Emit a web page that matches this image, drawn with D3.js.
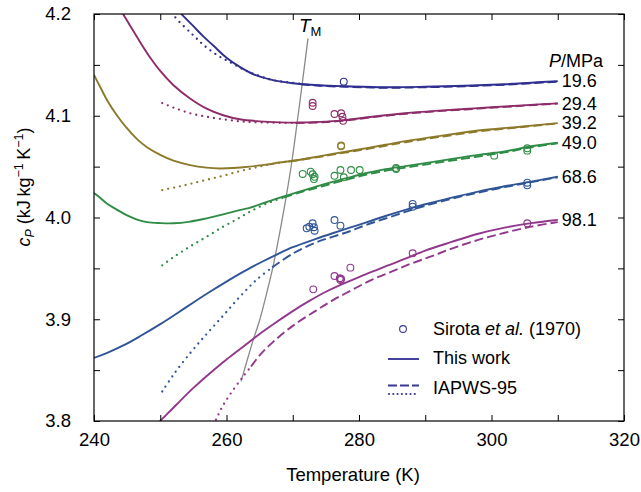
<!DOCTYPE html>
<html><head><meta charset="utf-8">
<script src="https://cdn.jsdelivr.net/npm/d3@7/dist/d3.min.js"></script>
<style>
body{margin:0;background:#fff;}
svg{display:block;font-family:"Liberation Sans",Arial,Helvetica,sans-serif;}
</style>
</head><body>
<svg id="chart" width="641" height="492"></svg>
<script>
// ---------------- data ----------------
const pressureLabels = ["19.6", "29.4", "39.2", "49.0", "68.6", "98.1"];
const seriesColors = ["#2e2f8e", "#8e2c6a", "#8c7a2a", "#2f8c46", "#305596", "#91378c"];

const xTickValues = [240, 250, 260, 270, 280, 290, 300, 310, 320];
const xTickLabels = ["240", "", "260", "", "280", "", "300", "", "320"];
const yTickValues = [3.8, 3.85, 3.9, 3.95, 4.0, 4.05, 4.1, 4.15, 4.2];
const yTickLabels = ["3.8", "", "3.9", "", "4.0", "", "4.1", "", "4.2"];

// This work (solid) [T (K), cP (kJ/kg/K)]
const thisWork196 = [[252.4,4.207],[253.2,4.200],[255,4.188],[256.5,4.178],[258,4.169],[260,4.157],[262,4.148],[264,4.141],[267,4.135],[270,4.132],[274,4.130],[278,4.129],[284,4.128],[290,4.1285],[296,4.1295],[302,4.131],[306,4.1325],[310,4.134]];
const thisWork294 = [[243.8,4.207],[244.4,4.200],[245.5,4.188],[247,4.172],[248.5,4.157],[250,4.144],[252,4.130],[254.5,4.117],[257,4.107],[259.5,4.1005],[262,4.0965],[265,4.0945],[268,4.0935],[271,4.0933],[274,4.094],[277.5,4.0955],[282,4.099],[287,4.1025],[292,4.105],[298,4.1075],[304,4.110],[310,4.1122]];
const thisWork392 = [[240,4.140],[241,4.1275],[242,4.115],[243.5,4.100],[245,4.0875],[246.5,4.077],[248,4.069],[250,4.0615],[252,4.0558],[254.5,4.0515],[257,4.049],[259,4.0482],[261,4.0486],[263.5,4.050],[266,4.052],[268,4.054],[270,4.0558],[273,4.059],[276,4.0625],[280,4.0668],[284,4.0715],[287,4.075],[292,4.080],[298,4.0855],[304,4.089],[310,4.0928]];
const thisWork490 = [[240,4.024],[241,4.019],[242,4.0135],[243.5,4.0075],[245,4.002],[246.5,3.998],[248,3.9955],[250,3.9945],[252,3.9943],[254.5,3.996],[257,3.9992],[259.5,4.003],[261.5,4.0065],[263.5,4.0095],[266,4.015],[268.5,4.0205],[271,4.0255],[273.5,4.0303],[276,4.035],[278.6,4.0395],[281,4.0435],[284,4.0475],[287,4.0505],[290,4.0535],[294,4.0575],[298,4.0615],[302,4.065],[306,4.070],[310,4.0735]];
const thisWork686 = [[240,3.862],[242,3.867],[244.5,3.8745],[247,3.8835],[250,3.8952],[252.5,3.9057],[255,3.9165],[257.5,3.927],[260,3.937],[262.5,3.9465],[265,3.9553],[267.5,3.9633],[270,3.9708],[273.5,3.979],[276,3.9845],[278.6,3.990],[281,3.995],[284,4.0015],[287,4.0075],[290,4.013],[294,4.0195],[298,4.0255],[302,4.0307],[306,4.0353],[310,4.040]];
const thisWork981 = [[249.5,3.797],[250,3.800],[252.5,3.8165],[255,3.8325],[257.5,3.847],[260,3.8605],[262.5,3.873],[265,3.8855],[267.5,3.897],[270,3.908],[272.5,3.918],[275,3.927],[278,3.936],[281,3.944],[284,3.952],[287,3.9595],[290,3.9675],[294,3.976],[298,3.984],[302,3.990],[306,3.9945],[310,3.9975]];

// IAPWS-95 below melting temperature (dotted)
const iapwsDot196 = [[251,4.212],[252,4.199],[255,4.179],[257,4.167],[259,4.158],[261,4.151],[263,4.144],[265,4.139],[267,4.135],[271.2,4.1315]];
const iapwsDot294 = [[250.3,4.1125],[252,4.108],[254.5,4.1025],[257,4.099],[259.5,4.0965],[262,4.0945],[264,4.0937],[267,4.0932],[270.4,4.093]];
const iapwsDot392 = [[250.3,4.027],[252.5,4.030],[254.5,4.033],[257,4.037],[259.5,4.041],[262,4.0455],[264,4.0485],[266,4.0515],[269.4,4.0553]];
const iapwsDot490 = [[250.3,3.953],[252,3.961],[254.5,3.9715],[257,3.981],[259.5,3.991],[261.5,3.998],[263.5,4.0055],[266,4.0135],[268.6,4.0195]];
const iapwsDot686 = [[250.3,3.829],[252,3.8455],[254.5,3.8665],[257,3.8855],[259.5,3.9035],[262,3.922],[264.5,3.9385],[266.9,3.951]];
const iapwsDot981 = [[258,3.796],[258.5,3.8025],[259.5,3.8155],[261,3.8305],[262.5,3.8435],[263.7,3.8535]];

// IAPWS-95 above melting temperature (dashed)
const iapwsDash196 = [[271.2,4.131],[274,4.1295],[278,4.1285],[284,4.1275],[290,4.128],[296,4.129],[302,4.1305],[306,4.132],[310,4.1335]];
const iapwsDash294 = [[270.4,4.0928],[274,4.0935],[277.5,4.095],[282,4.0985],[287,4.102],[292,4.1045],[298,4.107],[304,4.1095],[310,4.112]];
const iapwsDash392 = [[269.4,4.055],[273,4.0585],[276,4.0618],[280,4.066],[284,4.0705],[287,4.074],[292,4.079],[298,4.0845],[304,4.0885],[310,4.0925]];
const iapwsDash490 = [[268.6,4.0195],[271,4.0245],[273.5,4.029],[276,4.0335],[278.6,4.038],[281,4.042],[284,4.046],[287,4.049],[290,4.052],[294,4.056],[298,4.060],[302,4.064],[306,4.069],[310,4.073]];
const iapwsDash686 = [[266.9,3.951],[270,3.9645],[273.5,3.9755],[276,3.981],[278.6,3.9865],[281,3.9925],[284,3.999],[287,4.0055],[290,4.0115],[294,4.0185],[298,4.0245],[302,4.0298],[306,4.0348],[310,4.0395]];
const iapwsDash981 = [[263.7,3.8535],[265,3.8645],[267,3.8775],[270,3.8935],[273.5,3.9085],[276,3.9185],[279,3.929],[282,3.939],[285,3.947],[288,3.955],[291,3.962],[294,3.9695],[298,3.978],[302,3.985],[306,3.991],[310,3.9955]];

// Sirota et al. (1970) measurements
const sirota196 = [[277.7,4.1335]];
const sirota294 = [[273.0,4.1128],[273.0,4.1096],[276.3,4.1017],[277.3,4.1024],[277.5,4.099],[277.6,4.095]];
const sirota392 = [[277.3,4.0708],[277.3,4.0700]];
const sirota490 = [[271.5,4.0428],[272.7,4.045],[273.0,4.0425],[273.3,4.040],[273.2,4.0378],[276.3,4.041],[277.2,4.0467],[277.7,4.0395],[278.8,4.0467],[280.1,4.0467],[285.6,4.0487],[285.6,4.0477],[300.4,4.0608],[305.4,4.068],[305.4,4.0657]];
const sirota686 = [[272.1,3.9894],[272.5,3.991],[273.0,3.9943],[273.2,3.9904],[273.3,3.987],[276.3,3.9975],[277.2,3.992],[288.1,4.0133],[288.1,4.0106],[305.4,4.0342],[305.4,4.0316]];
const sirota981 = [[273.1,3.9294],[276.3,3.9425],[277.1,3.9403],[277.2,3.9386],[277.3,3.9395],[278.7,3.9507],[288.1,3.9648],[305.4,3.9943]];

// Melting line T_M
const meltingLine = [[262.2,3.839],[263,3.857],[264,3.879],[265,3.899],[266,3.924],[267,3.951],[268,3.984],[269,4.020],[269.9,4.0565],[270.8,4.100],[271.5,4.135],[272.3,4.176]];

const thisWork = [thisWork196, thisWork294, thisWork392, thisWork490, thisWork686, thisWork981];
const iapwsDot = [iapwsDot196, iapwsDot294, iapwsDot392, iapwsDot490, iapwsDot686, iapwsDot981];
const iapwsDash = [iapwsDash196, iapwsDash294, iapwsDash392, iapwsDash490, iapwsDash686, iapwsDash981];
const sirota = [sirota196, sirota294, sirota392, sirota490, sirota686, sirota981];

// ---------------- drawing ----------------
const svg = d3.select("#chart");
const L = 94, R = 624, T = 14, B = 421;
const x = d3.scaleLinear().domain([240, 320]).range([L, R]);
const y = d3.scaleLinear().domain([3.8, 4.2]).range([B, T]);
const tickLen = 6;
const fs = 18.5;

const defs = svg.append("defs");
defs.append("clipPath").attr("id", "plotclip")
  .append("rect").attr("x", L).attr("y", T).attr("width", R - L).attr("height", B - T);

const line = d3.line().x(d => x(d[0])).y(d => y(d[1])).curve(d3.curveCatmullRom.alpha(0.5));

const plot = svg.append("g").attr("clip-path", "url(#plotclip)");

// melting line
plot.append("path").datum(meltingLine).attr("d", line)
  .attr("fill", "none").attr("stroke", "#8a8a8a").attr("stroke-width", 1.3);

thisWork.forEach((s, i) => {
  plot.append("path").datum(iapwsDot[i]).attr("d", line)
    .attr("fill", "none").attr("stroke", seriesColors[i]).attr("stroke-width", 2.3)
    .attr("stroke-linecap", "round").attr("stroke-dasharray", "0 6");
  plot.append("path").datum(iapwsDash[i]).attr("d", line)
    .attr("fill", "none").attr("stroke", seriesColors[i]).attr("stroke-width", 1.9)
    .attr("stroke-dasharray", "9 4");
  plot.append("path").datum(s).attr("d", line)
    .attr("fill", "none").attr("stroke", seriesColors[i]).attr("stroke-width", 1.9);
});

sirota.forEach((pts, i) => {
  plot.selectAll(null).data(pts).enter().append("circle")
    .attr("cx", d => x(d[0])).attr("cy", d => y(d[1])).attr("r", 3.4)
    .attr("fill", "none").attr("stroke", seriesColors[i]).attr("stroke-width", 1.1);
});

// axes (ticks inward on all four sides)
function styleAxis(g) {
  g.select(".domain").remove();
  g.selectAll(".tick line").attr("stroke", "#000").attr("stroke-width", 1);
  g.selectAll(".tick text").attr("fill", "#000").style("font-size", fs + "px")
    .style("font-family", "'Liberation Sans',Arial,sans-serif");
}
svg.append("g").attr("transform", `translate(0,${B})`)
  .call(d3.axisBottom(x).tickValues(xTickValues).tickFormat((d, i) => xTickLabels[i])
    .tickSizeInner(-tickLen).tickSizeOuter(0).tickPadding(12)).call(styleAxis);
svg.append("g").attr("transform", `translate(0,${T})`)
  .call(d3.axisTop(x).tickValues(xTickValues).tickFormat("")
    .tickSizeInner(-tickLen).tickSizeOuter(0)).call(styleAxis);
svg.append("g").attr("transform", `translate(${L},0)`)
  .call(d3.axisLeft(y).tickValues(yTickValues).tickFormat((d, i) => yTickLabels[i])
    .tickSizeInner(-tickLen).tickSizeOuter(0).tickPadding(23)).call(styleAxis);
svg.append("g").attr("transform", `translate(${R},0)`)
  .call(d3.axisRight(y).tickValues(yTickValues).tickFormat("")
    .tickSizeInner(-tickLen).tickSizeOuter(0)).call(styleAxis);

svg.append("rect").attr("x", L).attr("y", T).attr("width", R - L).attr("height", B - T)
  .attr("fill", "none").attr("stroke", "#000").attr("stroke-width", 1.2);

// axis titles
svg.append("text").attr("x", 353).attr("y", 481).attr("text-anchor", "middle")
  .style("font-size", fs + "px").text("Temperature (K)");

const yt = svg.append("text").attr("transform", "translate(30,187) rotate(-90)")
  .attr("text-anchor", "middle").style("font-size", "18px");
yt.append("tspan").attr("font-style", "italic").text("c");
yt.append("tspan").attr("font-style", "italic").attr("dy", 4).style("font-size", "12.5px").text("P");
yt.append("tspan").attr("dy", -4).text(" (kJ\u2009kg");
yt.append("tspan").attr("dy", -7).style("font-size", "12.5px").text("\u22121");
yt.append("tspan").attr("dy", 7).text("\u2009K");
yt.append("tspan").attr("dy", -7).style("font-size", "12.5px").text("\u22121");
yt.append("tspan").attr("dy", 7).text(")");

// pressure labels
const pl = svg.append("text").attr("x", 549).attr("y", 67).style("font-size", "18px");
pl.append("tspan").attr("font-style", "italic").text("P");
pl.append("tspan").text("/MPa");
thisWork.forEach((s, i) => {
  const last = s[s.length - 1];
  svg.append("text").attr("x", x(last[0]) + 4).attr("y", y(last[1])).attr("dy", "0.35em")
    .style("font-size", "18px").text(pressureLabels[i]);
});

// T_M label
const tm = svg.append("text").attr("x", 299).attr("y", 32).style("font-size", "19px");
tm.append("tspan").attr("font-style", "italic").text("T");
tm.append("tspan").attr("dy", 4).style("font-size", "13px").text("M");

// legend
const legendColor = "#3a3896";
svg.append("circle").attr("cx", 403).attr("cy", 329).attr("r", 3.4)
  .attr("fill", "none").attr("stroke", legendColor).attr("stroke-width", 1.1);
const lt = svg.append("text").attr("x", 433).attr("y", 329).attr("dy", "0.35em").style("font-size", "18px");
lt.append("tspan").text("Sirota ");
lt.append("tspan").attr("font-style", "italic").text("et al.");
lt.append("tspan").text(" (1970)");

svg.append("line").attr("x1", 388).attr("x2", 419).attr("y1", 359).attr("y2", 359)
  .attr("stroke", legendColor).attr("stroke-width", 1.9);
svg.append("text").attr("x", 433).attr("y", 358).attr("dy", "0.35em").style("font-size", "18px").text("This work");

svg.append("line").attr("x1", 388).attr("x2", 419).attr("y1", 385.5).attr("y2", 385.5)
  .attr("stroke", legendColor).attr("stroke-width", 1.9).attr("stroke-dasharray", "9 3");
svg.append("line").attr("x1", 389).attr("x2", 419).attr("y1", 394).attr("y2", 394)
  .attr("stroke", legendColor).attr("stroke-width", 2.2).attr("stroke-linecap", "round").attr("stroke-dasharray", "0 4.3");
svg.append("text").attr("x", 433).attr("y", 388).attr("dy", "0.35em").style("font-size", "18px").text("IAPWS-95");
</script>
</body></html>
